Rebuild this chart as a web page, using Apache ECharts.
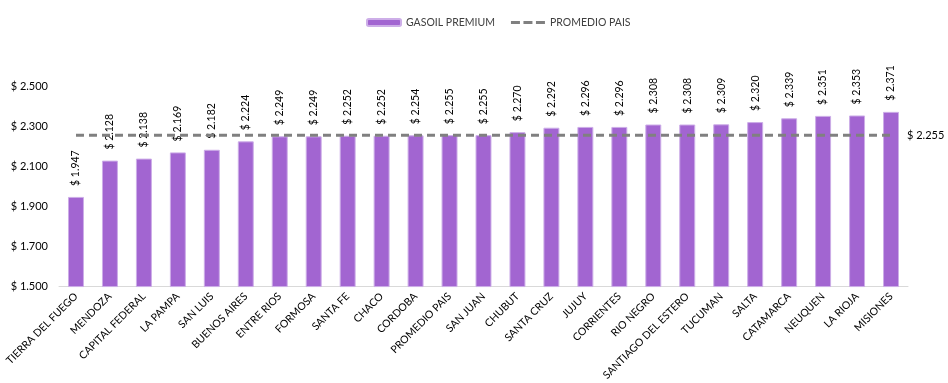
<!DOCTYPE html>
<html>
<head>
<meta charset="utf-8">
<script src="https://cdn.jsdelivr.net/npm/echarts@6/dist/echarts.min.js"></script>
<style>
  html, body { margin: 0; padding: 0; background: #fff; }
  #chart { width: 948px; height: 383px; }
</style>
</head>
<body>
<div id="chart"></div>
<script>
// Provinces, sorted by price
const provinces = [
  'TIERRA DEL FUEGO', 'MENDOZA', 'CAPITAL FEDERAL', 'LA PAMPA', 'SAN LUIS',
  'BUENOS AIRES', 'ENTRE RIOS', 'FORMOSA', 'SANTA FE', 'CHACO', 'CORDOBA',
  'PROMEDIO PAIS', 'SAN JUAN', 'CHUBUT', 'SANTA CRUZ', 'JUJUY', 'CORRIENTES',
  'RIO NEGRO', 'SANTIAGO DEL ESTERO', 'TUCUMAN', 'SALTA', 'CATAMARCA',
  'NEUQUEN', 'LA RIOJA', 'MISIONES'
];

// Gasoil premium price per province ($)
const gasoilPremium = [
  1947, 2128, 2138, 2169, 2182, 2224, 2249, 2249, 2252, 2252, 2254,
  2255, 2255, 2270, 2292, 2296, 2296, 2308, 2308, 2309, 2320, 2339,
  2351, 2353, 2371
];

// National average
const promedioPais = 2255;
const promedioLine = provinces.map(() => promedioPais);

// Y axis range
const yMin = 1500;
const yMax = 2500;
const yStep = 200;

const FONT = 'Lato';

// Three-dash legend glyph (tiny corner marks keep the 34x7 box so dashes are not stretched)
const DASH_ICON = 'path://M0,0L0.01,0L0.01,0.01Z M0,7L0.01,7L0.01,6.99Z ' +
  'M0,2H9V5H0Z M12.5,2H21.5V5H12.5Z M25,2H34V5H25Z';

function pesos(v) {
  const s = Math.round(v).toString().replace(/\B(?=(\d{3})+(?!\d))/g, '.');
  return '$ ' + s;
}

const chart = echarts.init(document.getElementById('chart'));
chart.setOption({
  animation: false,
  textStyle: { fontFamily: FONT },
  legend: {
    top: 12,
    left: 361,
    itemWidth: 34,
    itemHeight: 7,
    itemGap: 16,
    textStyle: { fontFamily: FONT, fontSize: 10.5, color: '#404040' },
    data: [
      { name: 'GASOIL PREMIUM' },
      { name: 'PROMEDIO PAIS', icon: DASH_ICON, itemStyle: { color: '#808080' } }
    ]
  },
  grid: { left: 59, right: 40, top: 86, bottom: 96, containLabel: false },
  xAxis: {
    type: 'category',
    data: provinces,
    axisLine: { lineStyle: { color: '#d9d9d9', width: 1 } },
    axisTick: { show: false },
    axisLabel: {
      rotate: 45,
      interval: 0,
      margin: 8,
      fontFamily: FONT,
      fontSize: 10.5,
      color: '#000'
    }
  },
  yAxis: {
    type: 'value',
    min: yMin,
    max: yMax,
    interval: yStep,
    axisLine: { show: false },
    axisTick: { show: false },
    splitLine: { show: false },
    axisLabel: {
      formatter: pesos,
      margin: 11,
      fontFamily: FONT,
      fontSize: 11,
      color: '#000'
    }
  },
  series: [
    {
      name: 'GASOIL PREMIUM',
      type: 'bar',
      data: gasoilPremium,
      barWidth: '47%',
      itemStyle: { color: '#a265d1', borderColor: '#cdaee8', borderWidth: 1 },
      label: {
        show: true,
        position: 'top',
        rotate: 90,
        align: 'left',
        verticalAlign: 'middle',
        distance: 11,
        formatter: p => pesos(p.value),
        fontFamily: FONT,
        fontSize: 10.5,
        color: '#000'
      }
    },
    {
      name: 'PROMEDIO PAIS',
      type: 'line',
      data: promedioLine,
      symbol: 'none',
      lineStyle: { color: '#808080', width: 3, type: [8, 5] },
      itemStyle: { color: '#808080' },
      z: 3,
      endLabel: {
        show: true,
        formatter: () => pesos(promedioPais),
        distance: 16,
        fontFamily: FONT,
        fontSize: 11,
        color: '#000'
      }
    }
  ]
});
</script>
</body>
</html>
